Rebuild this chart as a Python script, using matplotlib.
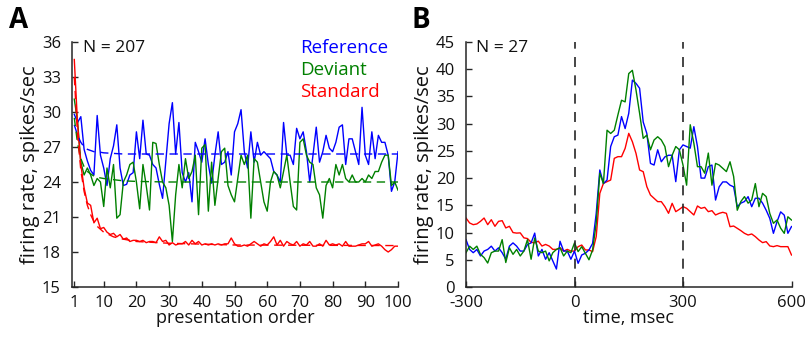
import matplotlib
matplotlib.use("Agg")
import matplotlib.pyplot as plt
from matplotlib.ticker import FuncFormatter
import numpy as np

plt.rcParams['font.family'] = ['Open Sans', 'DejaVu Sans']
plt.rcParams['axes.unicode_minus'] = False

# ---------------- Panel A data ----------------
order = list(range(1, 101))
reference_A = [29.8, 29.1, 29.6, 26.8, 25.8, 25.0, 24.6, 29.7, 26.3, 25.2,
               23.7, 26.0, 27.1, 28.9, 25.2, 23.7, 23.8, 24.6, 24.8, 28.3,
               26.0, 29.3, 26.4, 26.3, 25.5, 25.2, 23.8, 22.6, 25.8, 29.0,
               30.8, 26.4, 29.1, 24.8, 24.0, 24.8, 22.3, 27.4, 26.6, 25.7,
               27.7, 25.5, 23.9, 26.3, 28.3, 25.5, 25.7, 26.6, 24.6, 28.3,
               29.0, 30.2, 26.6, 25.2, 28.3, 25.7, 27.4, 26.3, 26.6, 26.3,
               26.0, 24.9, 24.6, 24.0, 29.1, 26.3, 26.3, 25.5, 28.6, 27.7,
               28.3, 26.6, 24.0, 26.3, 28.7, 25.7, 26.6, 28.0, 26.9, 26.6,
               27.4, 28.7, 28.9, 25.5, 27.7, 27.7, 26.6, 25.5, 30.4, 26.3,
               25.5, 28.3, 26.0, 28.0, 27.4, 27.4, 26.3, 23.2, 24.0, 26.6]
deviant_A = [31.1, 29.2, 25.7, 24.6, 25.2, 24.6, 23.7, 24.3, 24.0, 21.9,
             25.2, 23.5, 25.5, 20.9, 21.2, 24.0, 24.6, 25.5, 25.7, 24.0,
             21.7, 25.5, 23.7, 21.6, 27.4, 27.3, 25.5, 24.0, 23.5, 22.0,
             18.9, 22.9, 25.5, 23.5, 26.0, 24.3, 24.9, 26.3, 21.2, 26.9,
             27.2, 21.5, 25.7, 22.0, 24.3, 26.6, 26.9, 23.7, 22.9, 22.3,
             24.3, 26.3, 25.5, 26.3, 20.9, 26.0, 25.7, 24.0, 22.3, 21.5,
             24.0, 24.9, 24.6, 23.5, 24.9, 26.3, 24.0, 21.9, 21.6, 27.4,
             27.7, 26.3, 25.7, 25.5, 23.5, 22.9, 20.9, 23.7, 24.3, 23.5,
             25.5, 24.6, 25.5, 24.3, 24.0, 24.6, 24.0, 24.0, 24.3, 24.0,
             24.6, 24.3, 24.9, 24.9, 25.7, 26.3, 26.3, 23.7, 24.0, 23.3]
standard_A = [34.5, 29.0, 25.5, 23.5, 22.2, 22.0, 20.5, 20.9, 20.0, 20.1,
              19.7, 19.5, 19.6, 19.3, 19.5, 19.1, 19.2, 18.9, 19.0, 19.0,
              18.9, 19.0, 18.8, 18.9, 18.9, 18.8, 19.3, 18.9, 19.0, 18.6,
              18.8, 18.6, 18.7, 18.7, 18.9, 18.6, 19.0, 18.7, 18.9, 18.6,
              18.7, 18.6, 18.7, 18.6, 18.7, 18.6, 18.7, 18.7, 19.2, 18.7,
              18.5, 18.5, 18.6, 18.5, 18.7, 18.9, 18.7, 18.5, 18.7, 18.6,
              18.9, 19.3, 18.6, 19.0, 18.5, 18.9, 18.7, 18.6, 18.9, 18.5,
              18.7, 18.6, 18.9, 18.5, 18.5, 18.7, 18.5, 19.0, 18.6, 18.7,
              18.6, 18.7, 18.5, 18.9, 18.5, 18.5, 18.5, 18.6, 18.7, 18.7,
              18.9, 18.5, 18.6, 18.7, 18.5, 18.2, 18.0, 18.2, 18.5, 18.5]
# fitted curves (dashed), read at selected presentation numbers
fit_x = [1, 2, 3, 4, 5, 6, 7, 8, 10, 13, 16, 20, 30, 50, 100]
fit_reference = [28.9, 28.0, 27.4, 27.0, 26.8, 26.7, 26.6, 26.6, 26.5, 26.45, 26.4, 26.4, 26.4, 26.4, 26.4]
fit_deviant = [29.5, 27.3, 26.0, 25.3, 24.9, 24.7, 24.5, 24.4, 24.3, 24.2, 24.1, 24.05, 24.0, 24.0, 24.0]
fit_standard = [33.0, 28.0, 25.0, 23.2, 22.0, 21.2, 20.6, 20.2, 19.7, 19.3, 19.1, 18.9, 18.75, 18.6, 18.55]

# ---------------- Panel B data ----------------
time_ms = list(range(-300, 601, 10))
reference_B = [8.7, 6.9, 6.3, 6.9, 5.7, 6.6, 6.9, 7.5, 6.6, 7.2,
               6.3, 5.1, 7.5, 8.1, 7.5, 6.6, 6.6, 7.8, 8.1, 9.9,
               5.7, 6.9, 5.1, 6.3, 4.8, 3.3, 8.4, 6.6, 6.6, 5.1, 6.6,
               4.35, 5.88, 6.2, 6.8, 8.0, 13.5, 21.5, 19.0, 19.65, 25.8,
               27.6, 27.9, 31.3, 29.1, 31.9, 38.0, 37.4, 36.5, 30.3, 28.2,
               22.7, 22.4, 25.2, 23.0, 23.9, 24.2, 24.2, 19.35, 25.2, 26.1,
               25.8, 25.5, 29.45, 25.8, 20.0, 20.0, 22.1, 22.4, 15.97, 18.4,
               19.3, 19.3, 18.7, 18.4, 14.75, 15.4, 15.7, 16.6, 14.75, 16.3,
               16.3, 15.4, 14.1, 12.6, 9.86, 12.0, 13.8, 13.2, 9.86, 11.1]
deviant_B = [6.3, 7.5, 6.9, 7.5, 6.0, 5.4, 4.4, 6.3, 6.6, 6.6,
             8.7, 4.5, 7.2, 6.0, 6.9, 5.7, 6.6, 8.7, 5.1, 9.0,
             6.6, 6.3, 6.6, 4.8, 6.3, 6.9, 7.2, 5.7, 6.6, 6.3, 8.1,
             6.5, 7.4, 6.2, 5.0, 6.8, 11.7, 20.9, 19.0, 28.8, 28.2,
             28.8, 31.6, 34.3, 34.0, 39.2, 39.8, 36.2, 31.9, 27.3, 27.9,
             25.2, 27.0, 27.6, 27.0, 25.8, 22.1, 24.2, 25.8, 25.2, 22.4,
             18.7, 29.8, 26.4, 22.1, 22.1, 20.9, 24.6, 18.7, 22.7, 22.4,
             21.8, 21.2, 23.0, 20.3, 14.1, 15.7, 16.6, 15.4, 16.0, 19.0,
             14.75, 17.2, 16.6, 13.5, 11.7, 12.3, 10.8, 9.86, 12.9, 12.3]
standard_B = [12.67, 11.76, 11.45, 11.58, 12.06, 12.67, 11.45, 12.36, 11.15, 12.06,
              12.18, 10.85, 11.15, 10.0, 9.9, 9.94, 9.03, 8.9, 8.2, 8.12,
              8.42, 7.52, 7.82, 7.52, 6.91, 6.91, 7.21, 6.6, 6.91, 6.6, 6.6,
              7.41, 7.71, 6.8, 6.8, 6.49, 9.25, 17.2, 19.04, 19.35, 19.65,
              23.63, 23.94, 23.94, 25.47, 28.22, 26.69, 24.55, 21.49, 21.18, 18.43,
              16.9, 16.29, 15.68, 15.68, 14.76, 13.54, 15.37, 13.84, 14.27, 14.76,
              14.45, 13.84, 13.23, 14.88, 14.45, 14.63, 13.84, 14.02, 13.23, 13.53,
              13.72, 13.53, 11.08, 11.2, 10.78, 10.35, 9.86, 9.55, 9.74, 9.25,
              8.64, 8.15, 8.33, 7.54, 7.41, 7.6, 7.41, 7.41, 7.41, 5.88]
event_times = [0, 300]

yticks_A = [15, 18, 21, 24, 27, 30, 33, 36]
xticks_A = [1, 10, 20, 30, 40, 50, 60, 70, 80, 90, 100]
yticks_B = [0, 5, 10, 15, 20, 25, 30, 35, 40, 45]
xticks_B = [-300, 0, 300, 600]

C_REF = '#0000ff'
C_DEV = '#008000'
C_STD = '#ff0000'
AX_C = '#262626'
TXT = '#111111'

W, H = 808, 344
fig = plt.figure(figsize=(W / 100, H / 100), dpi=100)

def px_axes(l, r, t, b):
    return fig.add_axes([l / W, 1 - b / H, (r - l) / W, (b - t) / H])

axA = px_axes(72, 398, 42, 287)
axB = px_axes(466, 791.5, 42, 287)

lw = 1.0
dash = (0, (6, 4))
axA.plot(order, reference_A, color=C_REF, lw=lw)
axA.plot(order, deviant_A, color=C_DEV, lw=lw)
axA.plot(order, standard_A, color=C_STD, lw=lw)
axA.plot(fit_x, fit_reference, color=C_REF, lw=lw, linestyle=dash)
axA.plot(fit_x, fit_deviant, color=C_DEV, lw=lw, linestyle=dash)
axA.plot(fit_x, fit_standard, color=C_STD, lw=lw, linestyle=dash)
axA.set_xlim(0.3, 100)
axA.set_ylim(15, 36)
axA.set_xticks(xticks_A)
axA.set_yticks(yticks_A)

axB.plot(time_ms, standard_B, color=C_STD, lw=lw)
axB.plot(time_ms, reference_B, color=C_REF, lw=lw)
axB.plot(time_ms, deviant_B, color=C_DEV, lw=lw)
for t in event_times:
    axB.axvline(t, color=AX_C, lw=1.2, linestyle=(0, (6, 5)))
axB.set_xlim(-300, 600)
axB.set_ylim(0, 45)
axB.set_xticks(xticks_B)
axB.set_yticks(yticks_B)
axB.xaxis.set_major_formatter(FuncFormatter(lambda v, p: '%d' % v))

for ax in (axA, axB):
    for s in ('top', 'right'):
        ax.spines[s].set_visible(False)
    for s in ('left', 'bottom'):
        ax.spines[s].set_linewidth(1.1)
        ax.spines[s].set_color(AX_C)
    ax.tick_params(direction='in', length=4, width=1.0, color=AX_C,
                   labelsize=12, labelcolor=TXT)
    ax.tick_params(axis='y', pad=8)
    ax.tick_params(axis='x', pad=5.5)
    ax.set_ylabel('firing rate, spikes/sec', fontsize=14.5, color=TXT, labelpad=1)

axA.set_xlabel('presentation order', fontsize=13, color=TXT, labelpad=-1)
axB.set_xlabel('time, msec', fontsize=13, color=TXT, labelpad=-1)

axA.text(0.034, 0.976, 'N = 207', transform=axA.transAxes, fontsize=12.5,
         va='center', ha='left', color=TXT)
axB.text(0.031, 0.976, 'N = 27', transform=axB.transAxes, fontsize=12.5,
         va='center', ha='left', color=TXT)
for i, (lab, c) in enumerate([('Reference', C_REF), ('Deviant', C_DEV), ('Standard', C_STD)]):
    axA.text(0.70, 0.976 - i * 0.09, lab, color=c, transform=axA.transAxes,
             fontsize=13.5, va='center', ha='left')

fig.text(19 / W, 1 - 20 / H, 'A', fontsize=20, fontweight='bold', ha='center', va='center')
fig.text(421 / W, 1 - 20 / H, 'B', fontsize=20, fontweight='bold', ha='center', va='center')

fig.savefig('out.png', dpi=100)
